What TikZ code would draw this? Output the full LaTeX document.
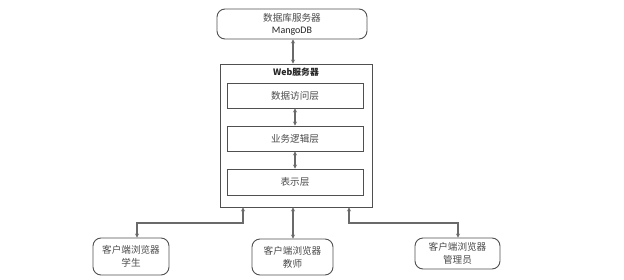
\documentclass[tikz,border=0pt]{standalone}
\usepackage{fontspec}
\setmainfont{Noto Sans CJK SC}
\newfontfamily\latinf{Carlito}
\usetikzlibrary{arrows.meta,calc}
\definecolor{edge}{HTML}{505050}
\definecolor{txt}{HTML}{4A4A4A}
\tikzset{
  rbox/.style={draw=edge,line width=0.9pt,rounded corners=8pt,align=center,inner sep=0pt,text=txt,font=\fontsize{9.6}{12.8}\selectfont},
  sbox/.style={draw=edge,line width=0.9pt,align=center,inner sep=0pt,text=txt,font=\fontsize{9.6}{12}\selectfont},
  biarr/.style={draw=edge!85,line width=1.1pt,{Stealth[length=4pt,width=4pt]}-{Stealth[length=4pt,width=4pt]}}
}
\begin{document}
\begin{tikzpicture}[x=1pt,y=-1pt]
\useasboundingbox (0,0) rectangle (624,279);
\node[rbox,minimum width=150pt,minimum height=30pt] (db) at (292,24) {数据库服务器\\[-1pt]{\latinf\fontsize{10}{11}\selectfont\color{black!85}MangoDB}};
\node[sbox,minimum width=152pt,minimum height=143pt] (web) at (296,135.5) {};
\node[font=\fontsize{8.8}{10}\selectfont\bfseries,text=black!85] (webl) at (296,72) {Web服务器};
\node[sbox,minimum width=136pt,minimum height=25pt] (l1) at (295,95.5) {数据访问层};
\node[sbox,minimum width=136pt,minimum height=25pt] (l2) at (295,138.5) {业务逻辑层};
\node[sbox,minimum width=136pt,minimum height=26pt] (l3) at (295,182) {表示层};
\node[rbox,minimum width=76pt,minimum height=37pt] (stu) at (131,256.5) {客户端浏览器\\学生};
\node[rbox,minimum width=81pt,minimum height=36pt] (tea) at (292.5,257) {客户端浏览器\\教师};
\node[rbox,minimum width=85pt,minimum height=31pt] (adm) at (457.5,253.5) {客户端浏览器\\管理员};
\draw[biarr] (db.south -| 293,0) -- (web.north -| 293,0);
\draw[biarr] (l1) -- (l2);
\draw[biarr] (l2) -- (l3);
\coordinate (k1) at (243,223);
\coordinate (k2) at (137,223);
\coordinate (k3) at (349,223);
\coordinate (k4) at (458,223);
\coordinate (k5) at (293,0);
\draw[biarr] (web.south -| k1) -- (k1) -- (k2) -- (stu.north -| k2);
\draw[biarr] (web.south -| k5) -- (tea.north -| k5);
\draw[biarr] (web.south -| k3) -- (k3) -- (k4) -- (adm.north -| k4);
\end{tikzpicture}
\end{document}
